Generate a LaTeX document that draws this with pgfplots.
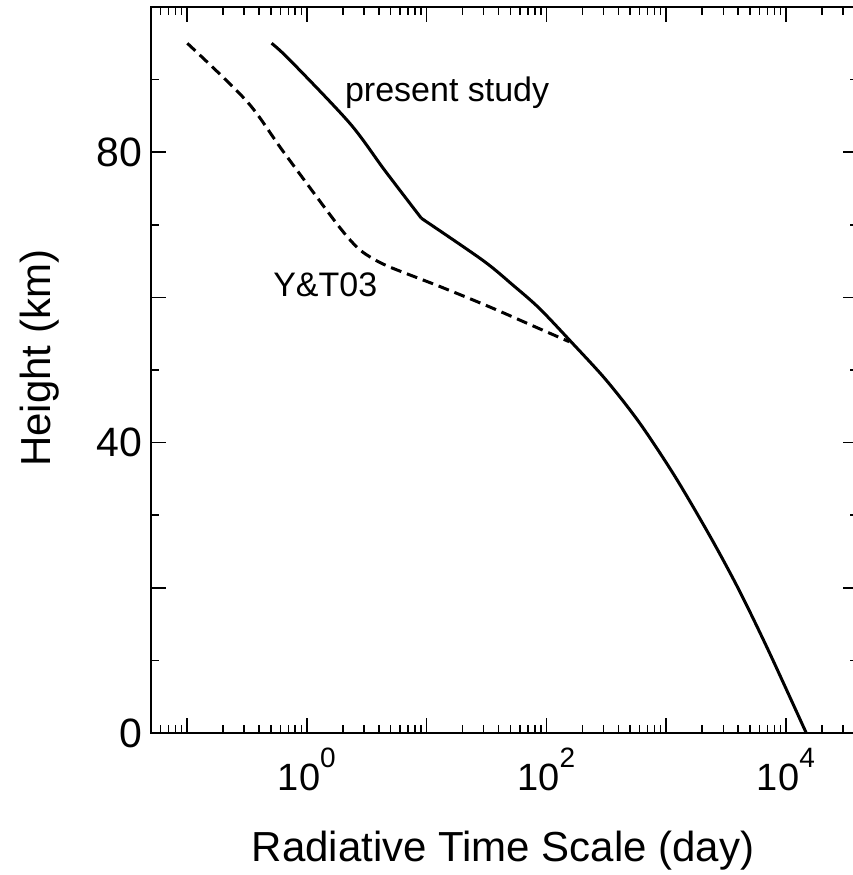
\documentclass[border=0pt]{standalone}
\usepackage{fontspec}
\setmainfont{Liberation Sans}
\usepackage{pgfplots}
\pgfplotsset{compat=1.18}
\newcommand{\tp}[1]{10\raisebox{11.5pt}{\fontsize{14pt}{14pt}\selectfont #1}}
\begin{document}
\begin{tikzpicture}
\begin{axis}[
  scale only axis, width=353.5pt, height=363pt,
  xmode=log, xmin=0.05, xmax=40000, ymin=0, ymax=100,
  axis line style={draw=none},
  every tick/.style={black, line width=0.75pt},
  major tick length=7.75pt, minor tick length=4.25pt,
  xtick={0.1,1,10,100,1000,10000},
  xticklabels={,\tp{0},,\tp{2},,\tp{4}},
  minor xtick={0.06,0.07,0.08,0.09,0.2,0.3,0.4,0.5,0.6,0.7,0.8,0.9,2,3,4,5,6,7,8,9,20,30,40,50,60,70,80,90,200,300,400,500,600,700,800,900,2000,3000,4000,5000,6000,7000,8000,9000,20000,30000},
  ytick={0,20,40,60,80,100},
  yticklabels={0,,40,,80,},
  minor ytick={10,30,50,70,90},
  /pgf/number format/assume math mode=true,
  yticklabel style={font=\fontsize{20.5pt}{20.5pt}\selectfont, anchor=east, inner sep=0pt, xshift=-4pt},
  xticklabel style={font=\fontsize{19pt}{19pt}\selectfont, anchor=base, inner sep=0pt, yshift=-28.5pt},
  xlabel={Radiative Time Scale (day)},
  ylabel={Height (km)},
  label style={font=\fontsize{21pt}{21pt}\selectfont},
  xlabel style={at={(axis description cs:0.498,-0.1773)}, anchor=base, inner sep=0pt},
  ylabel style={at={(axis description cs:-0.1419,0.516)}, anchor=base, inner sep=0pt},
]
\addplot[black, line width=1.5pt, smooth] coordinates {
(0.508,95.0) (0.721,92.7) (2.28,84.0) (4.47,77.5) (9.04,70.9)
};
\addplot[black, line width=1.5pt, smooth] coordinates {
(9.04,70.9) (29.5,65.1) (52.5,61.7) (87.3,58.5) (164.8,53.7) (316,48.6)
(601,42.7) (1189,35.3) (2344,27.0) (4058,19.7) (7129,11.4) (14791,0)
};
\addplot[black, line width=1.5pt, smooth, dash pattern=on 5.5pt off 3pt] coordinates {
(0.1005,95.0) (0.316,87.0) (0.635,80.1) (1.77,70.2) (2.59,67.0) (3.35,65.6)
(4.9,64.2) (12.9,61.5) (33.5,58.7) (87.1,55.7) (155,53.9)
};
\node[anchor=base west, inner sep=0pt, font=\fontsize{17pt}{17pt}\selectfont] at (axis cs:2.07,86.96) {present study};
\node[anchor=base west, inner sep=0pt, font=\fontsize{17pt}{17pt}\selectfont] at (axis cs:0.521,60.1) {Y\&T03};
\end{axis}
\draw[line width=1pt, line join=miter] (current axis.north east) -- (current axis.north west) -- (current axis.south west) -- (current axis.south east);
\pgfresetboundingbox
\path[use as bounding box] ([xshift=-75.5pt,yshift=-71pt]current axis.south west) rectangle ([xshift=-3pt,yshift=3.5pt]current axis.north east);
\end{tikzpicture}
\end{document}
